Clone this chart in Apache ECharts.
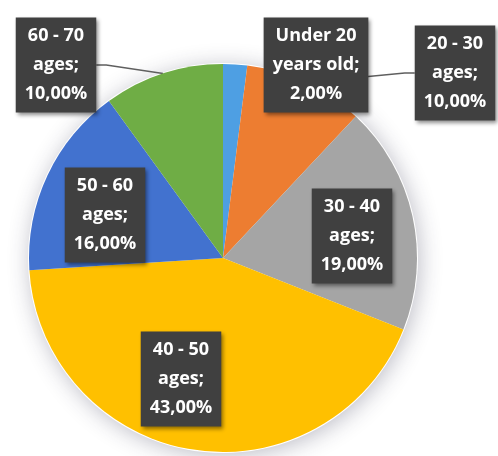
<!DOCTYPE html>
<html>
<head>
<meta charset="utf-8">
<script src="https://cdn.jsdelivr.net/npm/echarts@6/dist/echarts.min.js"></script>
<style>html,body{margin:0;padding:0;background:#fff}#c{width:498px;height:456px}</style>
</head>
<body>
<div id="c"></div>
<script>
const categories = ['Under 20 years old', '20 - 30 ages', '30 - 40 ages', '40 - 50 ages', '50 - 60 ages', '60 - 70 ages'];
const values = [2, 10, 19, 43, 16, 10];

const colors = ['#4E9FE3', '#ED7D31', '#A5A5A5', '#FFC000', '#4272CF', '#6FAD45'];
const labelCenters = [[316, 65], [455, 73], [352, 236], [181, 379], [105, 215], [56, 65]];
const showLine = [false, true, false, false, false, true];

const chart = echarts.init(document.getElementById('c'), null, {renderer: 'canvas'});
chart.setOption({
  animation: false,
  backgroundColor: '#fff',
  series: [
    {
      type: 'pie', silent: true, center: [223, 258], radius: 195, z: 1,
      startAngle: 90, label: {show: false}, labelLine: {show: false},
      itemStyle: {color: '#fff', shadowBlur: 22, shadowColor: 'rgba(40,40,70,0.3)', shadowOffsetX: 2, shadowOffsetY: 3},
      data: [{value: 1}]
    },
    {
      type: 'pie', z: 2,
      center: [223, 258], radius: 194, startAngle: 90, clockwise: true,
      avoidLabelOverlap: false,
      itemStyle: {borderWidth: 0},
      label: {
        show: true, position: 'outside',
        formatter: p => p.name.replace(/ (ages|years)/, '\n$1') + ';\n' + p.value.toFixed(2).replace('.', ',') + '%',
        color: '#fff', fontFamily: 'Open Sans', fontWeight: 'bold', fontSize: 18, lineHeight: 29,
        align: 'center',
        backgroundColor: '#404040', padding: [4, 9, 4, 9],
        shadowBlur: 4, shadowColor: 'rgba(0,0,0,0.45)', shadowOffsetX: 2, shadowOffsetY: 2
      },
      labelLine: {show: false, length: 10, length2: 10, lineStyle: {color: '#5f5f5f', width: 1.5}},
      labelLayout: function (p) {
        const c = labelCenters[p.dataIndex];
        return {x: c[0], y: c[1], align: 'center', verticalAlign: 'middle', moveOverlap: null};
      },
      data: categories.map((n, i) => ({
        name: n, value: values[i], itemStyle: {color: colors[i]},
        labelLine: {show: showLine[i]}
      }))
    }
  ]
});
</script>
</body>
</html>
